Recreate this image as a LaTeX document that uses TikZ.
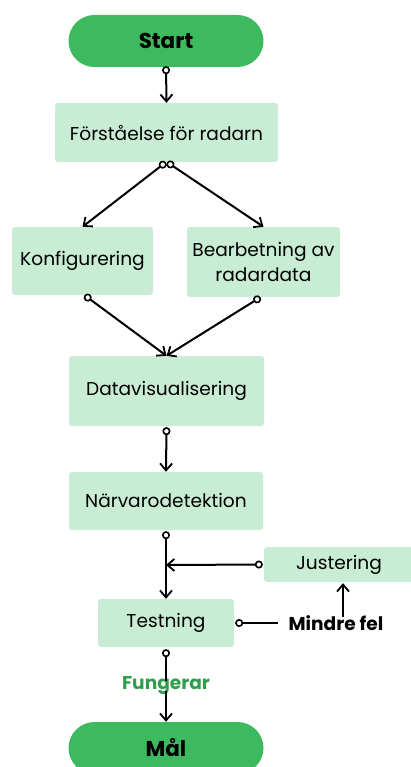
\documentclass[tikz,border=0pt]{standalone}
\usepackage{fontspec}
\setmainfont{Poppins}
\usetikzlibrary{arrows.meta}
\definecolor{pill}{HTML}{3DBA5F}
\definecolor{boxg}{HTML}{C8EDD4}
\definecolor{labg}{HTML}{2F9E4C}
\tikzset{
  pillbox/.style={fill=pill, rounded corners=26pt, minimum width=195pt, minimum height=52pt, font=\fontsize{21.5}{24}\selectfont\bfseries, text=black, inner sep=0pt},
  stepbox/.style={fill=boxg, rounded corners=3pt, inner sep=0pt, font=\fontsize{18.6}{25}\selectfont, text=black, align=center},
  conn/.style={line width=2pt, {Circle[open,length=8pt,width=8pt,line width=1.6pt]}-{Straight Barb[length=7pt,width=12pt,line width=1.8pt]}},
  plain/.style={line width=2pt, {Circle[open,length=8pt,width=8pt,line width=1.6pt]}-},
  onlyarrow/.style={line width=2pt, -{Straight Barb[length=7pt,width=12pt,line width=1.8pt]}},
}
\begin{document}
\begin{tikzpicture}[x=1pt,y=-1pt]
\useasboundingbox (0,0) rectangle (410,767);
\node[pillbox] (start) at (166,41) {Start};
\node[stepbox, minimum width=223pt, minimum height=59pt] (fors) at (166.5,132.5) {Förståelse för radarn};
\node[stepbox, minimum width=141pt, minimum height=68pt] (konf) at (82.5,261) {Konfigurering};
\node[stepbox, minimum width=153pt, minimum height=70pt] (bear) at (263.5,262) {Bearbetning av\\radardata};
\node[stepbox, minimum width=195pt, minimum height=70pt] (datv) at (166.5,391) {Datavisualisering};
\node[stepbox, minimum width=194pt, minimum height=58pt] (narv) at (166,501) {Närvarodetektion};
\node[stepbox, minimum width=150pt, minimum height=35pt] (just) at (339,564.5) {Justering};
\node[stepbox, minimum width=136pt, minimum height=48pt] (test) at (166,623) {Testning};
\node[font=\fontsize{18.6}{20}\selectfont\bfseries, inner sep=0pt] (mind) at (336,623) {Mindre fel};
\node[font=\fontsize{18.6}{20}\selectfont\bfseries, text=labg, inner sep=0pt] (fung) at (166,686) {Fungerar};
\node[pillbox] (mal) at (166,748) {Mål};
\coordinate (join) at (166,565);

\draw[conn] ([yshift=1pt]start.south) -- (fors.north);
\draw[conn] ([xshift=-0.6pt,yshift=0pt]fors.south) -- (konf.north);
\draw[conn] ([xshift=0.6pt,yshift=0pt]fors.south) -- (bear.north);
\draw[conn] ([xshift=2pt,yshift=0pt]konf.south) -- (datv.north);
\draw[conn] ([xshift=-3pt,yshift=0pt]bear.south) -- (datv.north);
\draw[conn] ([yshift=-1pt]datv.south) -- (narv.north);
\draw[conn] ([yshift=-1pt]narv.south) -- (test.north);
\draw[conn] ([xshift=-1pt]just.west) -- (join);
\draw[plain] ([xshift=1pt]test.east) -- ([xshift=-10pt]mind.west);
\draw[onlyarrow] ([xshift=7pt,yshift=-2pt]mind.north) -- ([xshift=7pt,yshift=-1pt]mind.north |- just.south);
\draw[plain] ([yshift=-2pt]test.south) -- ([yshift=-4pt]fung.north);
\draw[onlyarrow] ([yshift=4pt]fung.south) -- (mal.north);
\end{tikzpicture}
\end{document}
